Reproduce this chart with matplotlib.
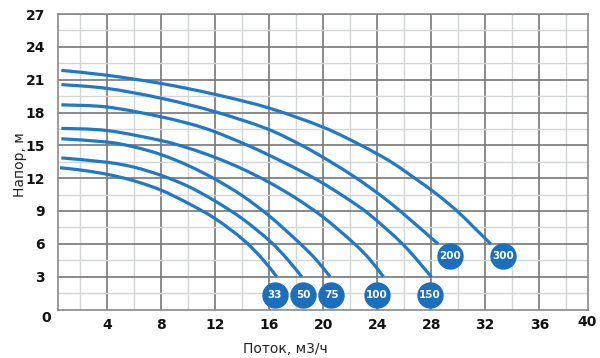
import matplotlib
matplotlib.use("Agg")
import matplotlib.pyplot as plt
from matplotlib.path import Path
from matplotlib.patches import PathPatch
from matplotlib.ticker import MultipleLocator

# Pump curves, flow (m3/h) vs head (m)
q_33 = [0.5, 2, 4, 6, 8, 10, 12, 14, 15.4, 16.55]
h_33 = [12.95, 12.75, 12.35, 11.75, 10.9, 9.7, 8.3, 6.45, 4.75, 3.0]

q_50 = [0.6, 4, 6, 8, 10, 12, 14, 16, 17.3, 18.4]
h_50 = [13.85, 13.45, 13.0, 12.25, 11.25, 9.9, 8.3, 6.3, 4.65, 3.0]

q_75 = [0.6, 4, 6, 8, 10, 12, 14, 16, 18, 19.4, 20.5]
h_75 = [15.6, 15.3, 14.85, 14.15, 13.15, 11.9, 10.4, 8.55, 6.35, 4.65, 3.0]

q_100 = [0.6, 4, 8, 10, 12, 14, 16, 18, 20, 22.25, 23.45, 24.45]
h_100 = [16.55, 16.35, 15.43, 14.75, 13.89, 12.85, 11.61, 10.15, 8.43, 6.07, 4.57, 3.0]

q_150 = [0.6, 4, 8, 11.25, 14.4, 16.9, 19.4, 21.5, 23.4, 25.9, 28.0]
h_150 = [18.7, 18.5, 17.6, 16.55, 15.0, 13.55, 11.95, 10.35, 8.7, 5.95, 3.0]

q_200 = [0.6, 4, 8, 11.9, 15.75, 18.4, 20.4, 22.4, 24, 25.5, 28.5]
h_200 = [20.55, 20.2, 19.3, 18.1, 16.55, 15.0, 13.6, 12.05, 10.65, 9.2, 6.0]

q_300 = [0.6, 4, 8, 12, 16, 20, 22.8, 25, 27, 28.5, 30, 31.2, 32.4]
h_300 = [21.85, 21.4, 20.65, 19.65, 18.4, 16.65, 15.0, 13.5, 11.8, 10.45, 8.9, 7.45, 6.0]

labels = ["33", "50", "75", "100", "150", "200", "300"]
label_q = [16.4, 18.5, 20.6, 23.95, 27.9, 29.4, 33.3]
label_h = [1.35, 1.35, 1.35, 1.35, 1.35, 4.9, 4.9]

curves = [(q_33, h_33), (q_50, h_50), (q_75, h_75), (q_100, h_100),
          (q_150, h_150), (q_200, h_200), (q_300, h_300)]

line_color = "#1f78c8"
badge_color = "#1b6fbd"


def smooth_path(xs, ys):
    # Catmull-Rom through the read points, drawn as cubic Bezier segments
    pts = list(zip(xs, ys))
    verts = [pts[0]]
    codes = [Path.MOVETO]
    n = len(pts)
    for i in range(n - 1):
        p0 = pts[i - 1] if i > 0 else pts[i]
        p1 = pts[i]
        p2 = pts[i + 1]
        p3 = pts[i + 2] if i + 2 < n else pts[i + 1]
        c1 = (p1[0] + (p2[0] - p0[0]) / 6, p1[1] + (p2[1] - p0[1]) / 6)
        c2 = (p2[0] - (p3[0] - p1[0]) / 6, p2[1] - (p3[1] - p1[1]) / 6)
        verts += [c1, c2, p2]
        codes += [Path.CURVE4] * 3
    return Path(verts, codes)


fig = plt.figure(figsize=(6, 3.58), dpi=100)
ax = fig.add_axes([57.7 / 600, 1 - 309.5 / 358, 530.6 / 600, 295.5 / 358])

ax.set_xlim(0.33, 39.63)
ax.set_ylim(0, 27)

ax.xaxis.set_major_locator(MultipleLocator(4))
ax.xaxis.set_minor_locator(MultipleLocator(2))
ax.yaxis.set_major_locator(MultipleLocator(3))
ax.yaxis.set_minor_locator(MultipleLocator(1.5))
ax.grid(which="minor", color="#d2d6d6", linewidth=1.0)
ax.grid(which="major", color="#777777", linewidth=1.2)
ax.set_axisbelow(True)

for s in ax.spines.values():
    s.set_color("#8a8a8a")
    s.set_linewidth(1.2)

ax.tick_params(which="both", length=0)
ax.set_xticks(range(4, 40, 4))
ax.set_xticklabels([str(v) for v in range(4, 40, 4)], fontsize=10,
                   fontweight="bold", color="#111111")
ax.set_yticks(range(3, 28, 3))
ax.set_yticklabels([str(v) for v in range(3, 28, 3)], fontsize=10,
                   fontweight="bold", color="#111111")
ax.tick_params(axis="x", pad=6)
ax.tick_params(axis="y", pad=9)

# corner labels
ax.text(0.997, -0.043, "40", transform=ax.transAxes, ha="center", va="center",
        fontsize=10, fontweight="bold", color="#111111", clip_on=False)
ax.text(-0.021, -0.028, "0", transform=ax.transAxes, ha="center", va="center",
        fontsize=10, fontweight="bold", color="#111111", clip_on=False)

for q, h in curves:
    ax.add_patch(PathPatch(smooth_path(q, h), facecolor="none",
                           edgecolor=line_color, linewidth=2.3,
                           capstyle="butt", clip_on=False))

for lab, q, h in zip(labels, label_q, label_h):
    ax.plot(q, h, "o", markersize=18, color=badge_color, clip_on=False)
    ax.text(q, h, lab, ha="center", va="center", fontsize=7.5,
            fontweight="bold", color="white")

fig.text(20 / 600, 1 - 165 / 358, "Напор, м", rotation=90, ha="center",
         va="center", fontsize=10, color="#222222")
fig.text(285 / 600, 1 - 349 / 358, "Поток, м3/ч", ha="center", va="center",
         fontsize=10, color="#222222")

fig.savefig("out.png", dpi=100, facecolor="white")
